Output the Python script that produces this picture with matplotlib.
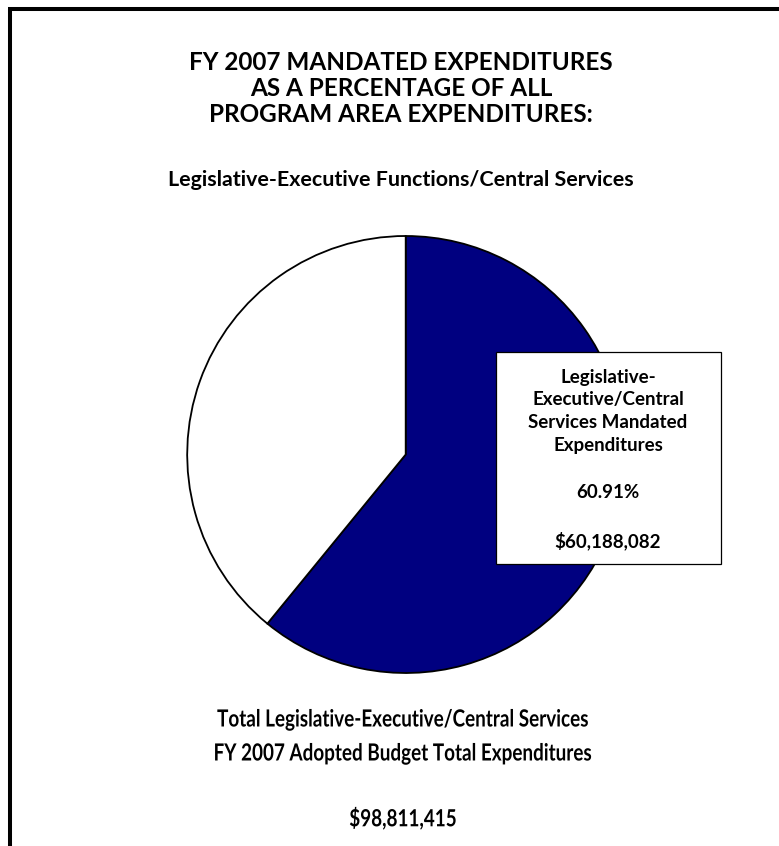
import matplotlib
matplotlib.use("Agg")
import matplotlib.pyplot as plt
from matplotlib.patches import Rectangle
from matplotlib.patheffects import AbstractPathEffect
from matplotlib.transforms import Affine2D

# Budget figures
slices = ["Mandated", "Non-mandated"]
total_budget = 98811415
mandated = 60188082
values = [mandated, total_budget - mandated]
colors = ["#000080", "#ffffff"]
mandated_pct = 60.91

title_lines = ["FY 2007 MANDATED EXPENDITURES",
               "AS A PERCENTAGE OF ALL",
               "PROGRAM AREA EXPENDITURES:"]
subtitle = "Legislative-Executive Functions/Central Services"
box_lines = ["Legislative-", "Executive/Central", "Services Mandated", "Expenditures"]
footer_lines = ["Total Legislative-Executive/Central Services",
                "FY 2007 Adopted Budget Total Expenditures"]


class HSqueeze(AbstractPathEffect):
    """Narrow glyphs horizontally around a fixed pixel column."""

    def __init__(self, sx, x0):
        super().__init__()
        self.sx = sx
        self.x0 = x0

    def draw_path(self, renderer, gc, tpath, affine, rgbFace=None):
        squeeze = Affine2D().translate(-self.x0, 0).scale(self.sx, 1).translate(self.x0, 0)
        renderer.draw_path(gc, tpath, affine + squeeze, rgbFace)


W, H = 779, 846
fig = plt.figure(figsize=(W / 100, H / 100), dpi=100)

# Pie axes sized to the circle in pixels
cx, cy, r = 405.7, 454.5, 218.5
pie_ax = fig.add_axes([(cx - r) / W, (H - cy - r) / H, 2 * r / W, 2 * r / H])
pie_ax.pie(values, colors=colors, startangle=90, counterclock=False,
           wedgeprops=dict(edgecolor="black", linewidth=1.3, clip_on=False))
pie_ax.set_xlim(-1, 1)
pie_ax.set_ylim(-1, 1)
pie_ax.axis("off")

# Overlay in pixel coordinates for text, box and frame
ax = fig.add_axes([0, 0, 1, 1])
ax.set_xlim(0, W)
ax.set_ylim(H, 0)
ax.axis("off")
ax.patch.set_alpha(0)

font = ["Lato", "DejaVu Sans"]

# Frame (left and top edges)
ax.plot([10, 10], [9, H], color="black", lw=2.9, solid_capstyle="butt")
ax.plot([8, W], [9, 9], color="black", lw=2.9, solid_capstyle="butt")

for i, line in enumerate(title_lines):
    ax.text(401, 63 + i * 26, line, ha="center", va="center",
            fontsize=17.5, fontweight="bold", family=font)
ax.text(401, 180, subtitle, ha="center", va="center",
        fontsize=15.4, fontweight="bold", family=font)

# Label box over the mandated slice
ax.add_patch(Rectangle((496, 352), 225, 212, facecolor="white",
                       edgecolor="black", lw=0.9, zorder=3))
for i, line in enumerate(box_lines):
    ax.text(608, 377 + i * 23, line, ha="center", va="center",
            fontsize=13.5, fontweight="bold", family=font, zorder=4)
ax.text(608, 493, f"{mandated_pct:.2f}%", ha="center", va="center",
        fontsize=13.5, fontweight="bold", family=font, zorder=4)
ax.text(608, 541, f"${mandated:,}", ha="center", va="center",
        fontsize=13.5, fontweight="bold", family=font, zorder=4)

# Footer in a condensed cut
fx = 403
narrow = [HSqueeze(0.8, fx)]
for i, line in enumerate(footer_lines):
    ax.text(fx, 719 + i * 34, line, ha="center", va="center", fontsize=17,
            fontweight="bold", family=font, path_effects=narrow)
ax.text(fx, 818, f"${total_budget:,}", ha="center", va="center", fontsize=17,
        fontweight="bold", family=font, path_effects=narrow)

fig.savefig("out.png", dpi=100)
